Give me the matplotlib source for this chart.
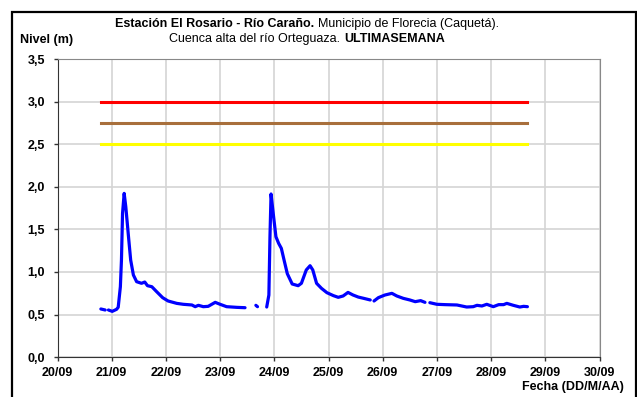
import numpy as np
import matplotlib
matplotlib.use("Agg")
import matplotlib.pyplot as plt
from matplotlib.patches import Rectangle

plt.rcParams["font.family"] = ["Liberation Sans", "DejaVu Sans"]

# dias desde 20/09 00:00 ; nan = hueco sin datos
dias = [0.80, 0.88, np.nan,
        0.94, 1.01, 1.09, 1.12, 1.16, 1.18, 1.20, 1.23, 1.26, 1.31, 1.35, 1.40,
        1.46, 1.55, 1.61, 1.66, 1.74, 1.83, 1.94, 2.04, 2.20, 2.32, 2.48, 2.54,
        2.60, 2.69, 2.78, 2.91, 3.00, 3.12, 3.31, 3.46, np.nan,
        3.66, 3.69, np.nan,
        3.86, 3.90, 3.92, 3.94, 3.98, 4.03, 4.08, 4.13, 4.18, 4.24, 4.33, 4.44,
        4.50, 4.59, 4.66, 4.71, 4.78, 4.87, 4.97, 5.09, 5.18, 5.27, 5.36, 5.45,
        5.55, 5.65, 5.77, np.nan,
        5.84, 5.92, 6.04, 6.17, 6.26, 6.38, 6.50, 6.60, 6.70, 6.78, np.nan,
        6.87, 7.00, 7.15, 7.37, 7.55, 7.67, 7.74, 7.83, 7.92, 8.04, 8.14, 8.23,
        8.29, 8.41, 8.53, 8.60, 8.67]
nivel = [0.565, 0.553, np.nan,
         0.553, 0.537, 0.561, 0.585, 0.827, 1.141, 1.69, 1.925, 1.768, 1.415,
         1.141, 0.965, 0.886, 0.867, 0.882, 0.839, 0.827, 0.768, 0.698, 0.659,
         0.631, 0.620, 0.612, 0.592, 0.608, 0.592, 0.596, 0.643, 0.620, 0.592,
         0.584, 0.580, np.nan,
         0.608, 0.592, np.nan,
         0.588, 0.729, 1.415, 1.918, 1.69, 1.415, 1.337, 1.278, 1.141, 0.98,
         0.859, 0.839, 0.867, 1.024, 1.074, 1.024, 0.867, 0.808, 0.757, 0.722,
         0.702, 0.718, 0.760, 0.730, 0.705, 0.690, 0.671, np.nan,
         0.659, 0.698, 0.729, 0.749, 0.718, 0.690, 0.671, 0.651, 0.663, 0.643,
         np.nan,
         0.639, 0.620, 0.616, 0.612, 0.588, 0.592, 0.608, 0.600, 0.620, 0.592,
         0.616, 0.616, 0.631, 0.608, 0.588, 0.596, 0.592]

# umbrales de alerta
umbral_inicio, umbral_fin = 0.80, 8.67
umbrales = [3.0, 2.75, 2.5]
colores_umbral = ["#FF0000", "#A86F3C", "#FFFF00"]

fechas = ["20/09", "21/09", "22/09", "23/09", "24/09", "25/09",
          "26/09", "27/09", "28/09", "29/09", "30/09"]
niveles_ticks = [0.0, 0.5, 1.0, 1.5, 2.0, 2.5, 3.0, 3.5]

W, H = 637, 397
FS = 9
fig = plt.figure(figsize=(W / 100, H / 100), dpi=100)
ax = fig.add_axes([57.5 / W, 40 / H, 542 / W, 297.5 / H])

for u, c in zip(umbrales, colores_umbral):
    ax.plot([umbral_inicio, umbral_fin], [u, u], color=c, lw=2.2, zorder=3)
ax.plot(dias, nivel, color="#0000FF", lw=2.3, zorder=4,
        solid_capstyle="round", solid_joinstyle="round")

ax.set_xlim(0, len(fechas) - 1)
ax.set_ylim(0, 3.5)
ax.set_xticks(range(len(fechas)))
ax.set_xticklabels(fechas)
ax.set_yticks(niveles_ticks)
ax.set_yticklabels([f"{v:.1f}".replace(".", ",") for v in niveles_ticks])
ax.grid(color="#D4D4D4", lw=1.2)
ax.set_axisbelow(True)
ax.tick_params(length=3, width=1, color="#333333", labelsize=FS)
ax.tick_params(axis="y", pad=6)
ax.tick_params(axis="x", pad=4)
for lab in ax.get_xticklabels() + ax.get_yticklabels():
    lab.set_fontweight("bold")
for s in ("top", "right"):
    ax.spines[s].set_color("#888888")
for s in ("left", "bottom"):
    ax.spines[s].set_color("#333333")

fig.text(20 / W, 1 - 40 / H, "Nivel (m)", weight="bold", size=FS, va="center")
fig.text(624 / W, 1 - 387 / H, "Fecha (DD/M/AA)", weight="bold", size=FS,
         ha="right", va="center")

# titulo con partes en negrita y normal
renderer = fig.canvas.get_renderer()


def ancho(t, w):
    o = fig.text(0, 0, t, weight=w, size=FS)
    a = o.get_window_extent(renderer).width
    o.remove()
    return a


def texto_mixto(yc, partes, xc=307):
    esp = ancho("x x", "normal") - ancho("xx", "normal")
    anchos = [ancho(t, w) for t, w in partes]
    total = sum(anchos) + esp * (len(partes) - 1)
    x = xc - total / 2
    for (t, w), a in zip(partes, anchos):
        fig.text(x / W, 1 - yc / H, t, weight=w, size=FS, va="center")
        x += a + esp


texto_mixto(24, [("Estación El Rosario - Río Caraño.", "bold"),
                 ("Municipio de Florecia (Caquetá).", "normal")])
texto_mixto(39, [("Cuenca alta del río Orteguaza.", "normal"),
                 ("ULTIMASEMANA", "bold")])

fig.patches.append(Rectangle((12 / W, -0.05), 624 / W, 1.05 - 12 / H,
                             transform=fig.transFigure, fill=False,
                             edgecolor="black", lw=1.6))

fig.savefig("out.png", dpi=100)
